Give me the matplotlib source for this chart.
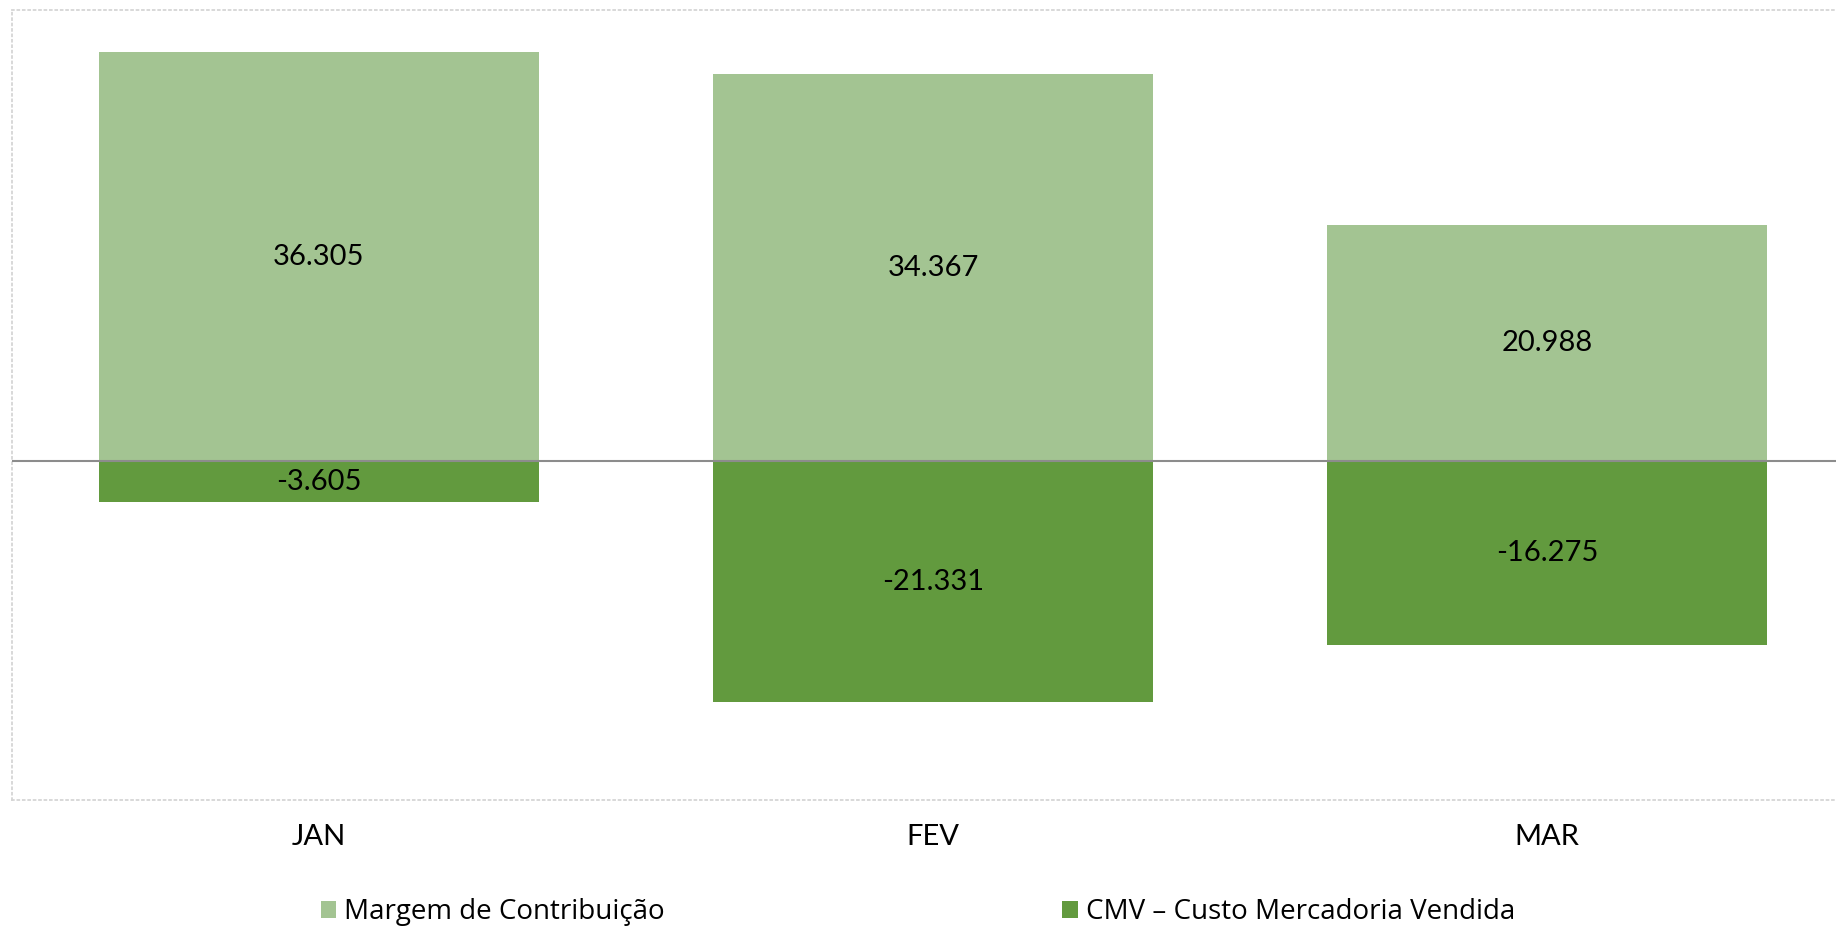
import matplotlib
matplotlib.use("Agg")
import matplotlib.pyplot as plt

meses = ["JAN", "FEV", "MAR"]
margem = [36305, 34367, 20988]
cmv = [-3605, -21331, -16275]
series = ["Margem de Contribuição", "CMV – Custo Mercadoria Vendida"]

cor_margem = "#A3C492"
cor_cmv = "#629A3E"


def fmt(v):
    # separador de milhar com ponto
    return "{:,}".format(v).replace(",", ".")


fig = plt.figure(figsize=(18.36, 9.26), dpi=100)
ax = fig.add_axes([12 / 1836, 1 - 800 / 926, 1842 / 1836, 790 / 926])

x = list(range(len(meses)))
b1 = ax.bar(x, margem, width=0.715, color=cor_margem, label=series[0], zorder=2)
b2 = ax.bar(x, cmv, width=0.715, color=cor_cmv, label=series[1], zorder=2)

for bars, vals in ((b1, margem), (b2, cmv)):
    for rect, v in zip(bars, vals):
        ax.text(rect.get_x() + rect.get_width() / 2, v / 2, fmt(v),
                ha="center", va="center", fontsize=21, family="Lato", color="black", zorder=3)

ax.axhline(0, color="#8C8C8C", lw=1.5, zorder=3)

ax.set_xlim(-0.5, 2.5)
ax.set_ylim(-30000, 40000)
ax.set_xticks(x)
ax.set_xticklabels(meses, fontsize=21, family="Lato")
ax.tick_params(axis="x", length=0, pad=17)
ax.set_yticks([])

for s in ("left", "top", "bottom", "right"):
    ax.spines[s].set_color("#D5D5D5")
    ax.spines[s].set_linestyle((0, (1, 2)))
    ax.spines[s].set_linewidth(1.3)

leg = fig.legend(handles=[b1, b2], loc="center", bbox_to_anchor=(0.5, 1 - 912 / 926), ncol=2,
                 frameon=False, prop={"family": "Open Sans", "size": 20},
                 handlelength=0.55, handleheight=0.55, handletextpad=0.3, columnspacing=14.3)

fig.savefig("out.png", dpi=100)
